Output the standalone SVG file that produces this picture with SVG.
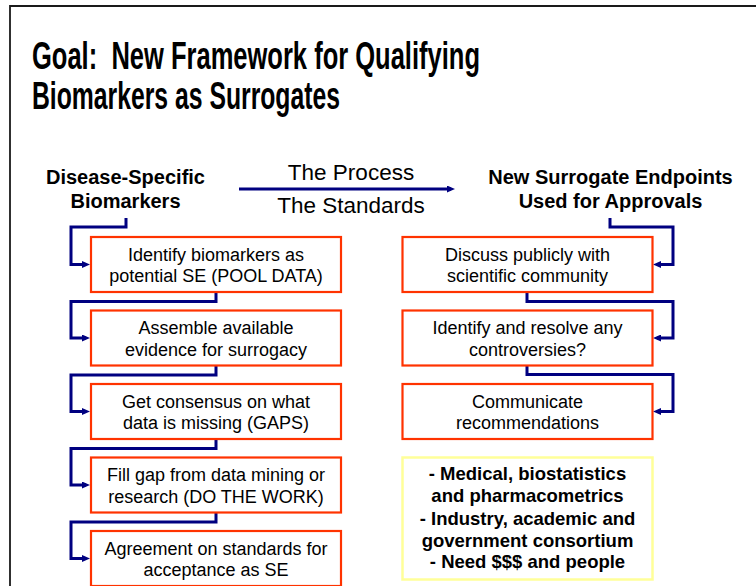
<svg xmlns="http://www.w3.org/2000/svg" width="756" height="586" viewBox="0 0 756 586">
<style>
text{font-family:"Liberation Sans",Arial,sans-serif;fill:#000;}
.title{font-size:39px;font-weight:bold;white-space:pre;}
.hdr{font-size:20px;font-weight:bold;text-anchor:middle;}
.proc{font-size:22.5px;text-anchor:middle;}
.bt{font-size:18px;text-anchor:middle;}
.yt{font-size:18.5px;font-weight:bold;text-anchor:middle;}
.box{fill:#fff;stroke:#FF3300;stroke-width:2.2;}
.ybox{fill:#fff;stroke:#FFFF99;stroke-width:2.5;}
.conn{fill:none;stroke:#000080;stroke-width:3;}
</style>
<defs>
<marker id="ah" markerUnits="userSpaceOnUse" markerWidth="8" markerHeight="7" refX="4" refY="3.5" orient="auto">
<path d="M0,0 L8,3.5 L0,7 z" fill="#000080"/>
</marker>
</defs>
<rect width="756" height="586" fill="#fff"/>
<path d="M10,586 V6 H756" fill="none" stroke="#1a1a1a" stroke-width="1.8"/>
<g id="title">
<text class="title" x="32" y="69" textLength="448" lengthAdjust="spacingAndGlyphs" xml:space="preserve">Goal:  New Framework for Qualifying</text>
<text class="title" x="32" y="109" textLength="308" lengthAdjust="spacingAndGlyphs">Biomarkers as Surrogates</text>
</g>
<g id="hdr-left">
<text class="hdr" x="125.5" y="183.5">Disease-Specific</text>
<text class="hdr" x="125.5" y="208">Biomarkers</text>
</g>
<g id="hdr-right">
<text class="hdr" x="610.5" y="183.5">New Surrogate Endpoints</text>
<text class="hdr" x="610.5" y="208">Used for Approvals</text>
</g>
<g id="process">
<text class="proc" x="351" y="180">The Process</text>
<text class="proc" x="351" y="213">The Standards</text>
</g>
<g id="connectors">
<path class="conn" d="M239,189 H451" marker-end="url(#ah)"/>
<path class="conn" d="M126,218 V227 H71 V264.5 H86" marker-end="url(#ah)"/>
<path class="conn" d="M216,292 V301.5 H71 V338 H86" marker-end="url(#ah)"/>
<path class="conn" d="M216,365.5 V375 H71 V411.5 H86" marker-end="url(#ah)"/>
<path class="conn" d="M216,439 V448.5 H71 V485 H86" marker-end="url(#ah)"/>
<path class="conn" d="M216,512.5 V522 H71 V558.5 H86" marker-end="url(#ah)"/>
<path class="conn" d="M610,218 V227 H673 V264.5 H657" marker-end="url(#ah)"/>
<path class="conn" d="M527,292 V301.5 H673 V338 H657" marker-end="url(#ah)"/>
<path class="conn" d="M527,365.5 V374.5 H673 V411.5 H657" marker-end="url(#ah)"/>
</g>
<g id="box1">
<rect class="box" x="91" y="237" width="250" height="55"/>
<text class="bt" x="216" y="260.5">Identify biomarkers as</text>
<text class="bt" x="216" y="282">potential SE (POOL DATA)</text>
</g>
<g id="box2">
<rect class="box" x="91" y="310.5" width="250" height="55"/>
<text class="bt" x="216" y="334">Assemble available</text>
<text class="bt" x="216" y="355.5">evidence for surrogacy</text>
</g>
<g id="box3">
<rect class="box" x="91" y="384" width="250" height="55"/>
<text class="bt" x="216" y="407.5">Get consensus on what</text>
<text class="bt" x="216" y="429">data is missing (GAPS)</text>
</g>
<g id="box4">
<rect class="box" x="91" y="457.5" width="250" height="55"/>
<text class="bt" x="216" y="481">Fill gap from data mining or</text>
<text class="bt" x="216" y="502.5">research (DO THE WORK)</text>
</g>
<g id="box5">
<rect class="box" x="91" y="531" width="250" height="55"/>
<text class="bt" x="216" y="554.5">Agreement on standards for</text>
<text class="bt" x="216" y="576">acceptance as SE</text>
</g>
<g id="rbox1">
<rect class="box" x="402.5" y="237" width="250" height="55"/>
<text class="bt" x="527.5" y="260.5">Discuss publicly with</text>
<text class="bt" x="527.5" y="282">scientific community</text>
</g>
<g id="rbox2">
<rect class="box" x="402.5" y="310.5" width="250" height="55"/>
<text class="bt" x="527.5" y="334">Identify and resolve any</text>
<text class="bt" x="527.5" y="355.5">controversies?</text>
</g>
<g id="rbox3">
<rect class="box" x="402.5" y="384" width="250" height="55"/>
<text class="bt" x="527.5" y="407.5">Communicate</text>
<text class="bt" x="527.5" y="429">recommendations</text>
</g>
<g id="notes">
<rect class="ybox" x="402.5" y="457.5" width="250" height="122"/>
<text class="yt" x="527.5" y="480">- Medical, biostatistics</text>
<text class="yt" x="527.5" y="502">and pharmacometrics</text>
<text class="yt" x="527.5" y="524.5">- Industry, academic and</text>
<text class="yt" x="527.5" y="546.5">government consortium</text>
<text class="yt" x="527.5" y="568">- Need $$$ and people</text>
</g>
</svg>
